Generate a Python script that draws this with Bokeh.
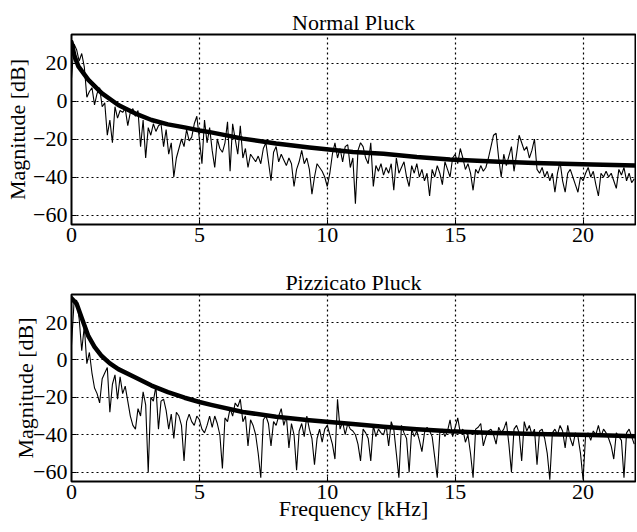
from bokeh.plotting import figure
from bokeh.layouts import column
from bokeh.models import FixedTicker, Range1d
from bokeh.embed import file_html
from bokeh.resources import INLINE

# ---------------- data ----------------
FREQ_STEP_KHZ = 0.1  # spectrum sampled every 0.1 kHz from 0 kHz

normal_spectrum_db = [
    12, 30, 27, 21, 25, 18, 2, 5, 7, -2,
    4, 7, -3, -1, -18, -10, -22, -3, -9, -5,
    -6, -4, -13, -6, -4, -8, -5, -24, -10, -30,
    -14, -18, -12, -16, -13, -12, -24, -15, -28, -22,
    -40, -30, -25, -20, -24, -15, -21, -19, -12, -8,
    -20, -33, -10, -22, -14, -26, -35, -20, -25, -27,
    -22, -11, -37, -12, -20, -28, -13, -30, -25, -35,
    -28, -30, -32, -29, -33, -25, -22, -32, -42, -27,
    -24, -32, -28, -31, -34, -30, -33, -45, -36, -32,
    -26, -33, -30, -36, -49, -40, -33, -35, -37, -40,
    -45, -38, -28, -22, -30, -25, -32, -24, -23, -35,
    -30, -54, -26, -22, -24, -30, -33, -22, -45, -34,
    -37, -33, -39, -35, -38, -33, -47, -30, -38, -35,
    -32, -40, -45, -34, -38, -33, -40, -36, -42, -38,
    -50, -36, -40, -34, -38, -44, -32, -36, -40, -30,
    -28, -33, -25, -30, -36, -33, -38, -47, -36, -38,
    -34, -37, -35, -30, -24, -18, -17, -30, -40, -28,
    -34, -29, -24, -37, -28, -18, -22, -26, -24, -30,
    -26, -20, -36, -38, -35, -40, -37, -42, -38, -48,
    -38, -32, -42, -48, -38, -36, -40, -44, -48, -40,
    -42, -38, -35, -40, -37, -44, -50, -38, -40, -37,
    -40, -38, -42, -46, -36, -39, -35, -42, -38, -43,
    -41,
]

pizzicato_spectrum_db = [
    8, 31, 32, 22, 5, 18, -2, 4, -7, -15,
    -18, -23, -10, -7, -4, -28, -13, -8, -21, -9,
    -18, -14, -22, -30, -35, -37, -26, -30, -17, -24,
    -60, -20, -22, -14, -37, -22, -21, -27, -37, -29,
    -42, -28, -30, -35, -54, -33, -29, -33, -35, -30,
    -32, -37, -39, -35, -30, -36, -30, -34, -40, -58,
    -31, -33, -26, -30, -23, -25, -21, -33, -30, -46,
    -32, -35, -40, -50, -63, -32, -30, -34, -46, -33,
    -35, -30, -26, -35, -30, -47, -34, -40, -59, -38,
    -34, -41, -30, -37, -42, -56, -42, -37, -44, -37,
    -35, -40, -45, -53, -21, -37, -33, -40, -34, -37,
    -38, -40, -45, -54, -37, -39, -42, -54, -35, -41,
    -37, -39, -40, -35, -46, -33, -37, -50, -63, -35,
    -39, -42, -60, -37, -41, -38, -43, -49, -39, -36,
    -38, -41, -52, -63, -39, -37, -41, -38, -32, -41,
    -36, -31, -39, -37, -44, -40, -50, -63, -37, -36,
    -34, -46, -41, -38, -37, -40, -45, -36, -39, -37,
    -33, -45, -60, -37, -35, -39, -54, -33, -38, -35,
    -40, -37, -56, -38, -37, -42, -50, -64, -39, -37,
    -40, -35, -38, -47, -35, -42, -46, -39, -41, -50,
    -64, -40, -39, -43, -38, -40, -35, -41, -37, -39,
    -42, -46, -53, -39, -41, -43, -63, -39, -37, -41,
    -45,
]

normal_env_khz = [0, 0.12, 0.27, 0.66, 1.18, 1.83, 2.48, 3.13, 3.77, 4.42, 5.0, 5.46,
                  6.7, 8.0, 9.3, 11.0, 12.2, 13.5, 14.8, 16.5, 18.1, 20.35, 22.05]
normal_env_db = [31, 23.5, 18.2, 11.1, 4.1, -2.1, -6.5, -10, -12.3, -13.9, -15.5, -16.5,
                 -19.8, -22.4, -24.5, -26.8, -27.8, -29.5, -30.8, -31.9, -32.6, -33.4, -34]

pizz_env_khz = [0, 0.2, 0.4, 0.66, 0.9, 1.18, 1.5, 1.83, 2.48, 3.13, 3.77, 4.42, 5.0,
                5.46, 6.7, 8.0, 9.3, 11.0, 12.2, 13.5, 14.8, 16.5, 18.1, 20.35, 22.05]
pizz_env_db = [33, 30, 22.4, 12.7, 7, 2.1, -1.8, -4.9, -9.3, -13.7, -17.2, -20.2, -22.5,
               -24, -27.8, -30.4, -32.2, -34.2, -35.7, -37, -38.1, -39, -39.6, -40.2, -40.8]

x_ticks = [0, 5, 10, 15, 20]
y_ticks = [-60, -40, -20, 0, 20]
y_tick_labels = {-60: "\u221260", -40: "\u221240", -20: "\u221220", 0: "0", 20: "20"}

titles = ["Normal Pluck", "Pizzicato Pluck"]
x_label = "Frequency [kHz]"
y_label = "Magnitude [dB]"

FONT = "Liberation Serif"
FS = "22px"


def make_plot(title, spectrum, env_x, env_y, height, top, bottom, show_xlabel, ylabel_standoff):
    freqs = [round(i * FREQ_STEP_KHZ, 2) for i in range(len(spectrum))]
    p = figure(width=636, height=height, output_backend="svg", toolbar_location=None,
               x_range=Range1d(0, 22.05), y_range=Range1d(-65, 35),
               min_border_left=71, min_border_right=1, min_border_top=top,
               min_border_bottom=bottom, title=title)
    p.line(freqs, spectrum, line_color="black", line_width=1.1)
    p.line(env_x, env_y, line_color="black", line_width=4.5, line_join="round", line_cap="round")

    p.title.align = "center"
    p.title.text_font = FONT
    p.title.text_font_size = FS
    p.title.text_font_style = "normal"
    p.title.text_color = "black"
    p.title.standoff = 0
    p.title.offset = 0

    p.outline_line_color = "black"
    p.outline_line_width = 2
    p.outline_line_alpha = 1
    p.background_fill_color = "white"
    p.border_fill_color = "white"

    for ax in (p.xaxis[0], p.yaxis[0]):
        ax.axis_line_color = None
        ax.major_tick_in = 5
        ax.major_tick_out = 0
        ax.minor_tick_line_color = None
        ax.major_tick_line_color = "black"
        ax.major_label_text_font = FONT
        ax.major_label_text_font_size = FS
        ax.major_label_text_color = "black"
        ax.axis_label_text_font = FONT
        ax.axis_label_text_font_size = FS
        ax.axis_label_text_font_style = "normal"
        ax.axis_label_text_color = "black"
    p.xaxis.ticker = FixedTicker(ticks=x_ticks)
    p.yaxis.ticker = FixedTicker(ticks=y_ticks)
    p.yaxis.major_label_overrides = y_tick_labels
    p.xaxis.major_label_standoff = 3
    p.yaxis.major_label_standoff = 4
    p.yaxis.axis_label = y_label
    p.yaxis.axis_label_standoff = ylabel_standoff
    if show_xlabel:
        p.xaxis.axis_label = x_label
        p.xaxis.axis_label_standoff = -6

    for g in (p.xgrid[0], p.ygrid[0]):
        g.grid_line_color = "black"
        g.grid_line_dash = "2 3"
        g.grid_line_width = 1.2
        g.grid_line_alpha = 1
    return p


p1 = make_plot(titles[0], normal_spectrum_db, normal_env_khz, normal_env_db,
               height=250, top=34, bottom=26, show_xlabel=False, ylabel_standoff=0)
p2 = make_plot(titles[1], pizzicato_spectrum_db, pizz_env_khz, pizz_env_db,
               height=280, top=44, bottom=49, show_xlabel=True, ylabel_standoff=-8)

layout = column(p1, p2, spacing=0)
open("out.html", "w").write(file_html(layout, INLINE))
